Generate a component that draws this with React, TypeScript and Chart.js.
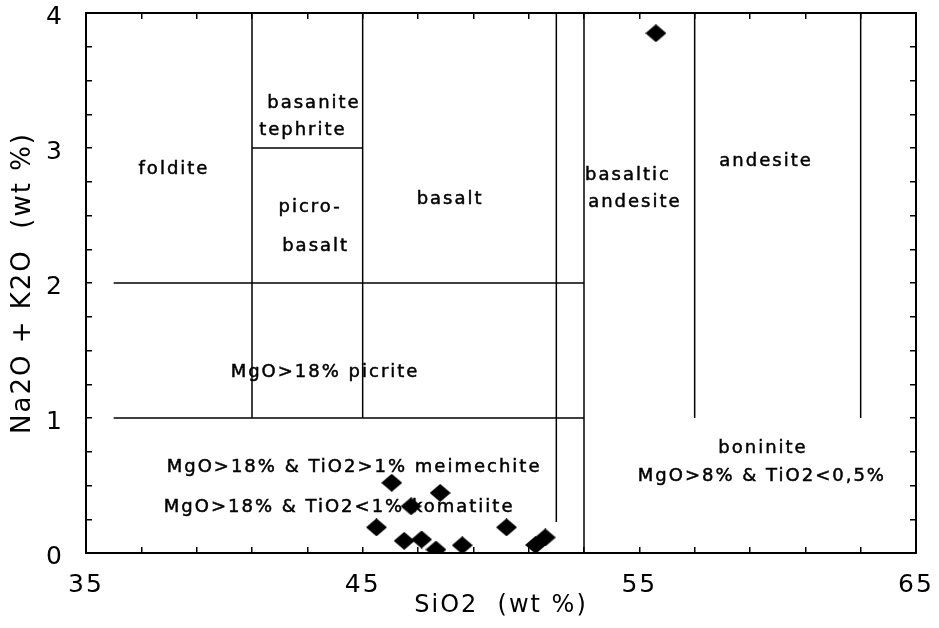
import React, { useEffect, useRef } from 'react';
import { Chart, registerables } from 'chart.js';

Chart.register(...registerables);

// SiO2 (wt %) of each sample
const sio2 = [46.05, 47.8, 46.75, 45.5, 50.2, 46.5, 47.13, 47.65, 48.6, 51.25, 51.6, 55.6];
// Na2O + K2O (wt %) of each sample
const alkali = [0.52, 0.445, 0.346, 0.19, 0.19, 0.09, 0.1, 0.025, 0.057, 0.06, 0.115, 3.85];

// x tick labels shown (minor ticks every 2 wt %)
const xTickLabels = [35, 45, 55, 65];
// y tick labels shown (minor ticks every 0.25 wt %)
const yTickLabels = [0, 1, 2, 3, 4];

// classification field boundaries: [SiO2, Na2O+K2O] segment end points
const fieldBoundaries: number[][][] = [
  [[41, 1], [41, 4]],
  [[45, 1], [45, 4]],
  [[41, 3], [45, 3]],
  [[36, 2], [53, 2]],
  [[36, 1], [53, 1]],
  [[52, 0.23], [52, 4]],
  [[53, 0], [53, 4]],
  [[57, 1], [57, 4]],
  [[63, 1], [63, 4]],
];

// field names with their anchor in data units
const fieldNames = ['foldite', 'basanite', 'tephrite', 'picro-', 'basalt', 'basalt', 'basaltic', 'andesite', 'andesite',
  'MgO>18% picrite', 'MgO>18% & TiO2>1% meimechite', 'MgO>18% & TiO2<1% komatiite', 'boninite', 'MgO>8% & TiO2<0,5%'];
const fieldNameX = [38.18, 43.24, 42.84, 43.1, 43.3, 48.16, 54.59, 54.84, 59.58, 43.64, 44.69, 44.15, 59.47, 59.43];
const fieldNameY = [2.84, 3.33, 3.13, 2.56, 2.27, 2.62, 2.8, 2.6, 2.9, 1.34, 0.635, 0.34, 0.776, 0.569];

const FONT = '"DejaVu Sans", sans-serif';

function makeDiamond(): HTMLCanvasElement {
  const c = document.createElement('canvas');
  c.width = 21;
  c.height = 18;
  const g = c.getContext('2d')!;
  g.fillStyle = '#000';
  g.beginPath();
  g.moveTo(10.5, 0);
  g.lineTo(21, 9);
  g.lineTo(10.5, 18);
  g.lineTo(0, 9);
  g.closePath();
  g.fill();
  return c;
}

const labelPlugin = {
  id: 'fieldLabels',
  beforeDraw(chart: any) {
    (chart.ctx as any).letterSpacing = '2px';
  },
  beforeDatasetsDraw(chart: any) {
    const { ctx, scales } = chart;
    const xs = scales.x;
    const ys = scales.y;
    ctx.save();
    (ctx as any).letterSpacing = '2px';
    ctx.font = `18px ${FONT}`;
    ctx.fillStyle = '#000';
    ctx.strokeStyle = '#000';
    ctx.lineWidth = 0.5;
    ctx.textAlign = 'center';
    ctx.textBaseline = 'middle';
    fieldNames.forEach((t, i) => {
      const px = xs.getPixelForValue(fieldNameX[i]);
      const py = ys.getPixelForValue(fieldNameY[i]);
      ctx.fillText(t, px, py);
      ctx.strokeText(t, px, py);
    });
    ctx.restore();
  },
};

function fixSize(w: number | null, h: number | null) {
  return (s: any) => {
    if (w !== null) s.width = w;
    if (h !== null) s.height = h;
    s.paddingTop = 0;
    s.paddingBottom = 0;
    s.paddingLeft = 0;
    s.paddingRight = 0;
  };
}

export default function App() {
  const ref = useRef<HTMLCanvasElement>(null);

  useEffect(() => {
    if (!ref.current) return;
    const grid = { drawOnChartArea: false, drawTicks: true, tickLength: -6, color: '#000', lineWidth: 1.5 };
    const border = { display: true, color: '#000', width: 2 };
    const lineSets = fieldBoundaries.map((seg) => ({
      type: 'scatter' as const,
      data: seg.map(([x, y]) => ({ x, y })),
      showLine: true,
      borderColor: '#000',
      borderWidth: 1.5,
      pointRadius: 0,
      fill: false,
      order: 2,
    }));
    const chart = new Chart(ref.current, {
      type: 'scatter',
      data: {
        datasets: [
          {
            data: sio2.map((x, i) => ({ x, y: alkali[i] })),
            pointStyle: makeDiamond(),
            pointRadius: 10,
            backgroundColor: '#000',
            borderColor: '#000',
            order: 1,
          },
          ...lineSets,
        ] as any,
      },
      options: {
        animation: false,
        responsive: false,
        layout: { padding: 0 },
        plugins: { legend: { display: false }, tooltip: { enabled: false } },
        scales: {
          x: {
            type: 'linear',
            position: 'bottom',
            min: 35,
            max: 65,
            afterFit: fixSize(null, 75),
            ticks: {
              stepSize: 2,
              autoSkip: false,
              maxRotation: 0,
              padding: 23,
              color: '#000',
              font: { family: FONT, size: 25 },
              callback: (v: any) => (xTickLabels.includes(Math.round(Number(v) * 100) / 100) ? String(v) : ''),
            },
            grid,
            border,
            title: { display: true, text: 'SiO2  (wt %)', color: '#000', font: { family: FONT, size: 24 }, padding: { top: 0, bottom: 8 } },
          },
          x2: {
            type: 'linear',
            position: 'top',
            min: 35,
            max: 65,
            afterFit: fixSize(null, 13),
            ticks: { stepSize: 2, autoSkip: false, display: false },
            grid,
            border,
          },
          y: {
            type: 'linear',
            position: 'left',
            min: 0,
            max: 4,
            afterFit: fixSize(86, null),
            ticks: {
              stepSize: 0.25,
              autoSkip: false,
              padding: 28,
              labelOffset: 4,
              color: '#000',
              font: { family: FONT, size: 25 },
              callback: (v: any) => (yTickLabels.includes(Math.round(Number(v) * 1000) / 1000) ? String(v) : ''),
            },
            grid,
            border,
            title: { display: true, text: 'Na2O + K2O  (wt %)', color: '#000', font: { family: FONT, size: 26 }, padding: { top: 8, bottom: 0 } },
          },
          y2: {
            type: 'linear',
            position: 'right',
            min: 0,
            max: 4,
            afterFit: fixSize(23, null),
            ticks: { stepSize: 0.25, autoSkip: false, display: false },
            grid,
            border,
          },
        },
      } as any,
      plugins: [labelPlugin],
    });
    return () => chart.destroy();
  }, []);

  return (
    <div style={{ position: 'absolute', left: 0, top: 0, width: 939, height: 628, background: '#fff' }}>
      <canvas ref={ref} width={939} height={628} style={{ display: 'block' }} />
    </div>
  );
}
